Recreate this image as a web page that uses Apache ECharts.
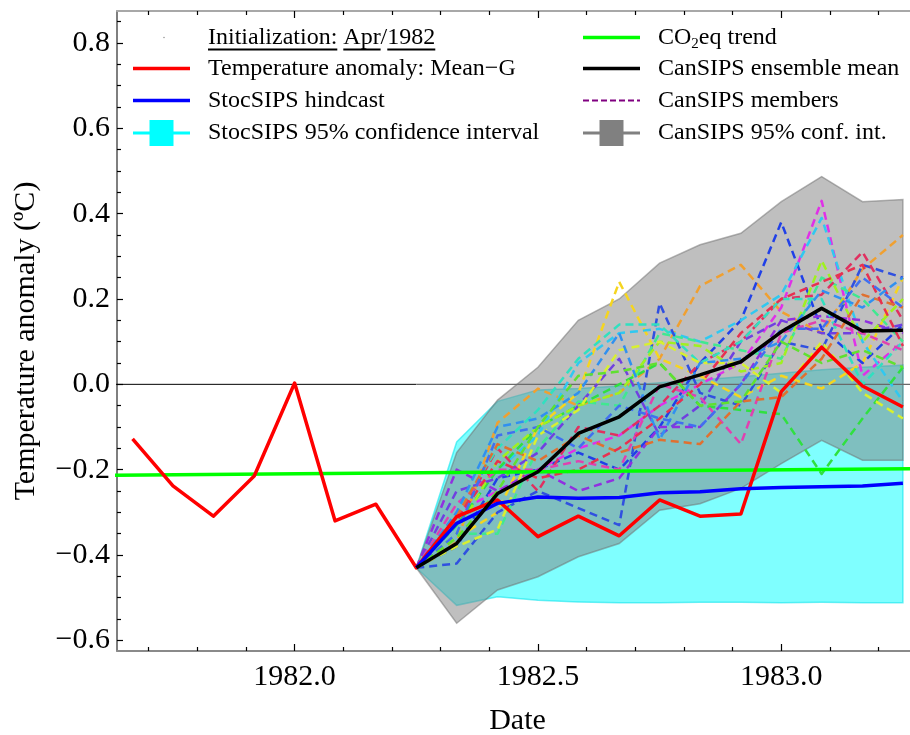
<!DOCTYPE html>
<html>
<head>
<meta charset="utf-8">
<script src="https://cdn.jsdelivr.net/npm/echarts@6/dist/echarts.min.js"></script>
<style>
html, body { margin: 0; padding: 0; background: #ffffff; overflow: hidden; }
#chart { width: 910px; height: 735px; }
</style>
</head>
<body>
<div id="chart"></div>
<script>
// Observed monthly anomaly (Mean-G), Sep 1981 - Apr 1983
const obsDates = [1981.667, 1981.75, 1981.833, 1981.917, 1982.0, 1982.083, 1982.167, 1982.25,
  1982.333, 1982.417, 1982.5, 1982.583, 1982.667, 1982.75, 1982.833, 1982.917,
  1983.0, 1983.083, 1983.167, 1983.25];
const observed = [-0.128, -0.238, -0.309, -0.215, 0.003, -0.320, -0.281, -0.430,
  -0.310, -0.271, -0.357, -0.309, -0.355, -0.271, -0.309, -0.304,
  -0.017, 0.087, -0.004, -0.053];

// Forecast months, initialised Apr 1982
const fcDates = [1982.25, 1982.333, 1982.417, 1982.5, 1982.583, 1982.667, 1982.75,
  1982.833, 1982.917, 1983.0, 1983.083, 1983.167, 1983.25];

const stocMean = [-0.430, -0.326, -0.279, -0.264, -0.267, -0.265, -0.254, -0.252, -0.245, -0.242, -0.240, -0.238, -0.232];
const stocLow  = [-0.430, -0.518, -0.498, -0.506, -0.510, -0.512, -0.512, -0.511, -0.511, -0.512, -0.511, -0.512, -0.512];
const stocHigh = [-0.430, -0.135, -0.040, -0.013, -0.010, -0.004, 0.004, 0.010, 0.018, 0.026, 0.034, 0.040, 0.045];

const canMean = [-0.430, -0.373, -0.256, -0.205, -0.115, -0.076, -0.006, 0.022, 0.053, 0.123, 0.178, 0.125, 0.127];
const canLow  = [-0.430, -0.560, -0.482, -0.451, -0.404, -0.373, -0.295, -0.280, -0.244, -0.186, -0.131, -0.178, -0.178];
const canHigh = [-0.430, -0.160, -0.037, 0.040, 0.150, 0.200, 0.284, 0.327, 0.354, 0.428, 0.487, 0.428, 0.433];

// CanSIPS individual members
const members = [
  [-0.43, -0.37, -0.09, -0.01, -0.05, -0.02, 0.06, 0.23, 0.28, 0.17, 0.12, 0.27, 0.35],
  [-0.43, -0.36, -0.30, -0.10, -0.02, 0.24, 0.06, 0.02, -0.03, 0.02, -0.01, 0.05, 0.25],
  [-0.43, -0.38, -0.22, -0.20, -0.16, -0.20, -0.10, 0.05, 0.15, 0.38, 0.13, 0.05, 0.14],
  [-0.43, -0.30, -0.25, -0.20, -0.15, -0.12, -0.05, 0.00, 0.05, 0.18, 0.43, 0.02, 0.10],
  [-0.43, -0.33, -0.20, -0.12, 0.05, 0.12, 0.13, 0.10, 0.15, 0.21, 0.39, 0.10, -0.04],
  [-0.43, -0.42, -0.30, -0.25, -0.29, -0.33, 0.19, -0.02, -0.05, 0.10, 0.08, 0.28, 0.25],
  [-0.43, -0.33, -0.20, -0.10, -0.05, 0.00, 0.05, -0.05, -0.06, -0.07, -0.21, -0.08, 0.04],
  [-0.43, -0.35, -0.35, -0.15, -0.04, -0.05, 0.12, 0.10, 0.08, 0.06, 0.25, 0.20, 0.10],
  [-0.43, -0.32, -0.15, -0.25, -0.10, -0.12, -0.05, 0.05, 0.10, 0.20, 0.21, 0.31, 0.15],
  [-0.43, -0.20, -0.25, -0.20, -0.25, -0.22, -0.10, -0.10, 0.00, 0.15, 0.16, 0.15, 0.12],
  [-0.43, -0.25, -0.22, -0.16, -0.05, 0.06, -0.12, -0.05, 0.10, 0.15, 0.12, 0.12, 0.14],
  [-0.43, -0.30, -0.15, -0.06, 0.06, 0.14, 0.14, 0.05, 0.10, 0.20, 0.20, 0.00, 0.10],
  [-0.43, -0.35, -0.18, -0.10, -0.05, -0.02, 0.10, 0.09, 0.03, 0.05, 0.29, 0.10, 0.20],
  [-0.43, -0.38, -0.34, -0.12, -0.06, 0.08, 0.10, 0.05, 0.05, -0.02, 0.10, -0.02, -0.08],
  [-0.43, -0.28, -0.20, -0.20, -0.18, -0.20, 0.00, -0.03, -0.14, 0.12, 0.15, 0.12, 0.08],
  [-0.43, -0.30, -0.10, -0.08, -0.02, 0.12, -0.13, 0.05, 0.06, 0.10, 0.22, 0.18, 0.25],
  [-0.43, -0.31, -0.14, -0.18, -0.12, -0.16, -0.13, -0.14, -0.04, -0.03, 0.06, 0.21, 0.18],
  [-0.43, -0.32, -0.18, -0.22, -0.20, -0.15, -0.08, 0.00, 0.12, 0.20, 0.24, 0.28, 0.09],
  [-0.43, -0.35, -0.12, -0.10, -0.15, -0.05, -0.08, -0.10, 0.00, 0.13, 0.13, 0.25, 0.18],
  [-0.43, -0.36, -0.25, -0.10, 0.02, 0.03, 0.05, -0.05, -0.04, 0.10, 0.05, 0.08, 0.04]
];

// CO2eq trend line end points
const trendDates = [1981.58, 1983.30];
const trendValues = [-0.2135, -0.1975];

// Axis ticks
const xTicks = [1982.0, 1982.5, 1983.0];
const xMinorTicks = [1981.7, 1981.8, 1981.9, 1982.1, 1982.2, 1982.3, 1982.4, 1982.6, 1982.7, 1982.8, 1982.9, 1983.1, 1983.2];
const yTicks = [-0.6, -0.4, -0.2, 0.0, 0.2, 0.4, 0.6, 0.8];
const yMinorTicks = [-0.55, -0.5, -0.45, -0.35, -0.3, -0.25, -0.15, -0.1, -0.05, 0.05, 0.1, 0.15,
  0.25, 0.3, 0.35, 0.45, 0.5, 0.55, 0.65, 0.7, 0.75, 0.85];

const memberColors = ['#f0a030', '#f5d520', '#2040e8', '#e030e8', '#30c8f0', '#3050e0',
  '#30e040', '#40e890', '#e03060', '#9030e0', '#7040e0', '#30e0c0', '#a0f020', '#d8f030',
  '#e040b0', '#3090f0', '#e07030', '#e83050', '#4070f0', '#60e030'];

const SERIF = '"Liberation Serif", "Times New Roman", serif';
const X_MIN = 1981.635, X_MAX = 1983.281;
const Y_MIN = -0.625, Y_MAX = 0.875;

const zip = (xs, ys) => xs.map((x, i) => [x, ys[i]]);
const fmtY = v => (v < 0 ? '\u2212' : '') + Math.abs(v).toFixed(1);

function bandSeries(lo, hi, fill, edge, z) {
  return {
    type: 'custom', z: z, silent: true, clip: true,
    data: [[fcDates[0], lo[0]]],
    renderItem: function (params, api) {
      const pts = [];
      for (let i = 0; i < fcDates.length; i++) pts.push(api.coord([fcDates[i], hi[i]]));
      for (let i = fcDates.length - 1; i >= 0; i--) pts.push(api.coord([fcDates[i], lo[i]]));
      return { type: 'polygon', shape: { points: pts }, style: { fill: fill, stroke: edge, lineWidth: 1.5 } };
    }
  };
}

function lineSeries(data, color, width, z, dash) {
  return {
    type: 'line', data: data, z: z, symbol: 'none', silent: true, animation: false,
    lineStyle: { color: color, width: width, type: dash || 'solid', join: 'round' }
  };
}

function xAxisDef(pos, ticks, len, labels, lineColor, lineWidth) {
  return {
    type: 'value', position: pos, min: X_MIN, max: X_MAX,
    axisLine: { show: !!lineColor, onZero: false, lineStyle: { color: lineColor || '#000', width: lineWidth || 1 } },
    axisTick: { show: true, inside: true, length: len, customValues: ticks, lineStyle: { color: '#000', width: 1.2 } },
    axisLabel: labels ? {
      show: true, customValues: ticks, formatter: v => v.toFixed(1),
      fontFamily: SERIF, fontSize: 30, color: '#000', margin: 11
    } : { show: false },
    splitLine: { show: false }
  };
}

function yAxisDef(ticks, len, labels, lineColor) {
  return {
    type: 'value', position: 'left', min: Y_MIN, max: Y_MAX,
    axisLine: { show: !!lineColor, onZero: false, lineStyle: { color: lineColor || '#000', width: 1.5 } },
    axisTick: { show: true, inside: true, length: len, customValues: ticks, lineStyle: { color: '#000', width: 1.2 } },
    axisLabel: labels ? {
      show: true, customValues: ticks, formatter: fmtY,
      fontFamily: SERIF, fontSize: 30, color: '#000', margin: 7
    } : { show: false },
    splitLine: { show: false }
  };
}

const axisX = xAxisDef('bottom', xTicks, 7, true, '#8a8a8a', 2);
axisX.name = 'Date';
axisX.nameLocation = 'middle';
axisX.nameGap = 55;
axisX.nameTextStyle = { fontFamily: SERIF, fontSize: 30, color: '#000' };

const axisY = yAxisDef(yTicks, 6, true, '#555555');
axisY.name = 'Temperature anomaly (\u00baC)';
axisY.nameLocation = 'middle';
axisY.nameGap = 76;
axisY.nameTextStyle = { fontFamily: SERIF, fontSize: 30, color: '#000', padding: [0, 20, 0, 0] };

const series = [
  bandSeries(stocLow, stocHigh, 'rgba(0,255,255,0.5)', 'rgba(0,225,235,0.55)', 1),
  bandSeries(canLow, canHigh, 'rgba(128,128,128,0.5)', 'rgba(110,110,110,0.5)', 2),
  lineSeries([[X_MIN - 0.1, 0], [fcDates[0], 0]], '#000000', 1, 3),
  lineSeries([[fcDates[0], 0], [X_MAX + 0.1, 0]], '#6a6a6a', 1.2, 3)
];
members.forEach((m, i) => series.push(lineSeries(zip(fcDates, m), memberColors[i], 2.5, 4, [8, 5])));
series.push(lineSeries(zip(trendDates, trendValues), '#00ff00', 3.5, 5));
series.push(lineSeries(zip(obsDates, observed), '#ff0000', 3.5, 6));
series.push(lineSeries(zip(fcDates, stocMean), '#0000ff', 3.5, 7));
series.push(lineSeries(zip(fcDates, canMean), '#000000', 3.5, 8));

// Legend drawn as graphic elements
const LEG_FONT = 24;
const measureCtx = document.createElement('canvas').getContext('2d');
measureCtx.font = LEG_FONT + 'px ' + SERIF;
const tw = s => measureCtx.measureText(s).width;

const graphics = [];
function legText(x, y, text) {
  graphics.push({ type: 'text', x: x, y: y, z: 100,
    style: { text: text, fill: '#000', fontFamily: SERIF, fontSize: LEG_FONT, verticalAlign: 'middle', align: 'left' } });
}
function legLine(x1, x2, y, color, width, dash) {
  graphics.push({ type: 'line', z: 100, shape: { x1: x1, y1: y, x2: x2, y2: y },
    style: { stroke: color, lineWidth: width, lineDash: dash || null } });
}
function legSquare(cx, cy, w, h, color) {
  graphics.push({ type: 'rect', z: 100, shape: { x: cx - w / 2, y: cy - h / 2, width: w, height: h }, style: { fill: color } });
}

const L1 = 133, L2 = 190, LT = 208;
const R1 = 583, R2 = 640, RT = 658;
const rows = [37.5, 68.5, 100.5, 133];

// Row 1: initialization label, underlined words
graphics.push({ type: 'circle', z: 100, shape: { cx: 164, cy: rows[0], r: 0.8 }, style: { fill: '#999' } });
const initParts = ['Initialization:', ' ', 'Apr', '/', '1982'];
legText(LT, rows[0], initParts.join(''));
let off = LT;
initParts.forEach((p, i) => {
  const w = tw(p);
  if (i % 2 === 0) legLine(off, off + w, rows[0] + 12, '#000', 2);
  off += w;
});
legLine(R1, R2, rows[0], '#00ff00', 3.5);
graphics.push({ type: 'text', x: RT, y: rows[0], z: 100,
  style: { text: '{a|CO}{s|2}{a|eq trend}', verticalAlign: 'middle', align: 'left',
    rich: {
      a: { fontFamily: SERIF, fontSize: LEG_FONT, fill: '#000', lineHeight: 28 },
      s: { fontFamily: SERIF, fontSize: 15, fill: '#000', lineHeight: 16, verticalAlign: 'bottom' }
    } } });

// Row 2
legLine(L1, L2, rows[1], '#ff0000', 3.5);
legText(LT, rows[1], 'Temperature anomaly: Mean\u2212G');
legLine(R1, R2, rows[1], '#000000', 3.5);
legText(RT, rows[1], 'CanSIPS ensemble mean');

// Row 3
legLine(L1, L2, rows[2], '#0000ff', 3.5);
legText(LT, rows[2], 'StocSIPS hindcast');
legLine(R1, R2, rows[2], '#800080', 2, [6, 3]);
legText(RT, rows[2], 'CanSIPS members');

// Row 4
legLine(L1, L2, rows[3], '#00ffff', 3);
legSquare((L1 + L2) / 2, rows[3], 24, 26, '#00ffff');
legText(LT, rows[3], 'StocSIPS 95% confidence interval');
legLine(R1, R2, rows[3], '#808080', 3);
legSquare((R1 + R2) / 2, rows[3], 24, 26, '#808080');
legText(RT, rows[3], 'CanSIPS 95% conf. int.');

const chart = echarts.init(document.getElementById('chart'), null, { renderer: 'canvas' });
chart.setOption({
  animation: false,
  backgroundColor: '#ffffff',
  grid: { left: 117, top: 11, width: 801, height: 640, containLabel: false, outerBoundsMode: 'none' },
  xAxis: [
    axisX,
    xAxisDef('bottom', xMinorTicks, 4, false),
    xAxisDef('top', xTicks, 7, false, '#a8a8a8', 2),
    xAxisDef('top', xMinorTicks, 4, false)
  ],
  yAxis: [
    axisY,
    yAxisDef(yMinorTicks, 4, false)
  ],
  series: series,
  graphic: graphics
});
</script>
</body>
</html>
